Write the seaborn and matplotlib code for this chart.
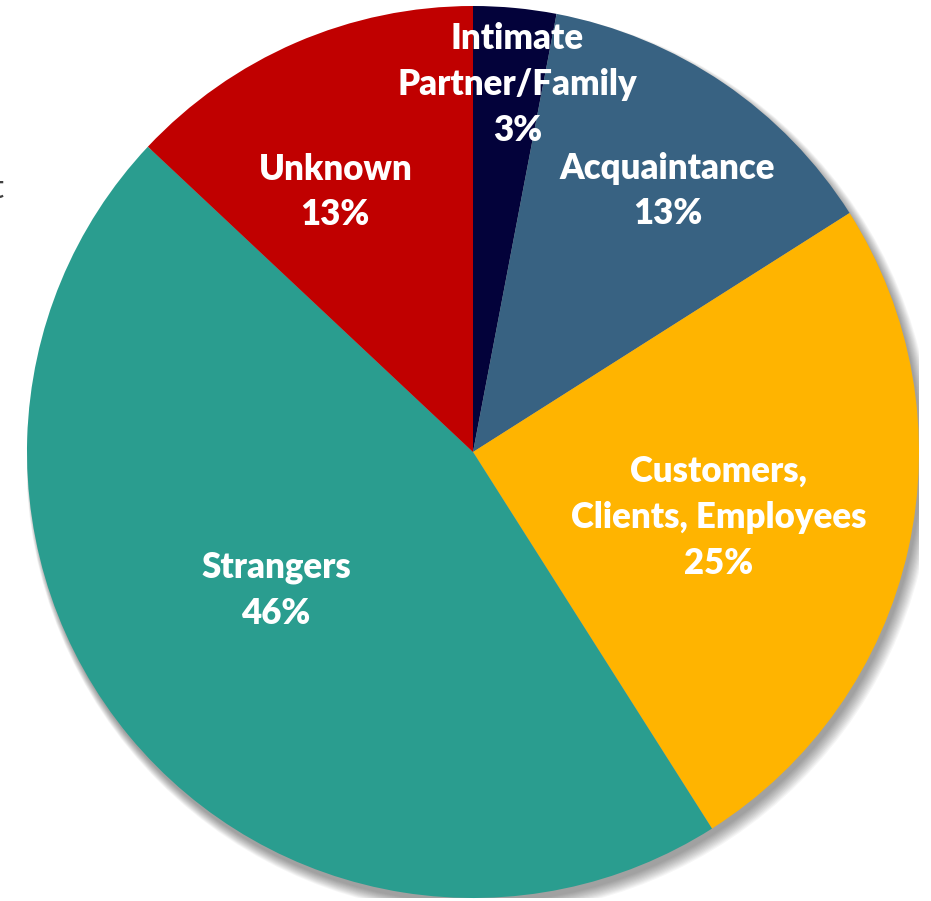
import matplotlib
matplotlib.use("Agg")
import matplotlib.pyplot as plt
import seaborn as sns
import numpy as np
from matplotlib.patches import Circle

categories = ["Intimate\nPartner/Family", "Acquaintance", "Customers,\nClients, Employees",
              "Strangers", "Unknown"]
values = [3, 13, 25, 46, 13]
colors = ["#03023A", "#386282", "#FFB400", "#2A9D8F", "#C00000"]

sns.set_style("white")
plt.rcParams["font.family"] = ["Lato", "DejaVu Sans"]

W, H = 931, 901
fig = plt.figure(figsize=(W / 100, H / 100), dpi=100)
cx, cy, R = 473, 452, 446
ax = fig.add_axes([(cx - R) / W, (H - cy - R) / H, 2 * R / W, 2 * R / H])

# soft shadow
for i in range(12):
    ax.add_patch(Circle((0.006 + i * 0.0008, -0.012 - i * 0.0008), 1.0 + i * 0.0015,
                        color="black", alpha=0.035, lw=0, zorder=0))

wedges, _ = ax.pie(values, colors=colors, startangle=90, counterclock=False,
                   radius=1.0, wedgeprops=dict(linewidth=0, zorder=2))
ax.set_xlim(-1, 1)
ax.set_ylim(-1, 1)
ax.set_aspect("equal")
ax.axis("off")

# label positions (fraction of radius, offset in degrees from slice middle)
label_pos = [(0.83, 1.5), (0.73, 2.5), (0.57, 2.3), (0.54, 4.5), (0.66, -4.5)]
cum = np.cumsum([0] + values)
for i, (cat, v) in enumerate(zip(categories, values)):
    mid = (cum[i] + cum[i + 1]) / 2 / sum(values) * 360
    r, off = label_pos[i]
    ang = np.deg2rad(90 - (mid + off))
    x, y = r * np.cos(ang), r * np.sin(ang)
    ax.text(x, y, f"{cat}\n{v}%", ha="center", va="center", color="white",
            fontsize=25, fontweight="heavy", linespacing=1.47, zorder=5)

fig.text(-0.009, 0.79, "t", fontsize=24, color="#404040", ha="left", va="center")

fig.savefig("out.png", dpi=100)
